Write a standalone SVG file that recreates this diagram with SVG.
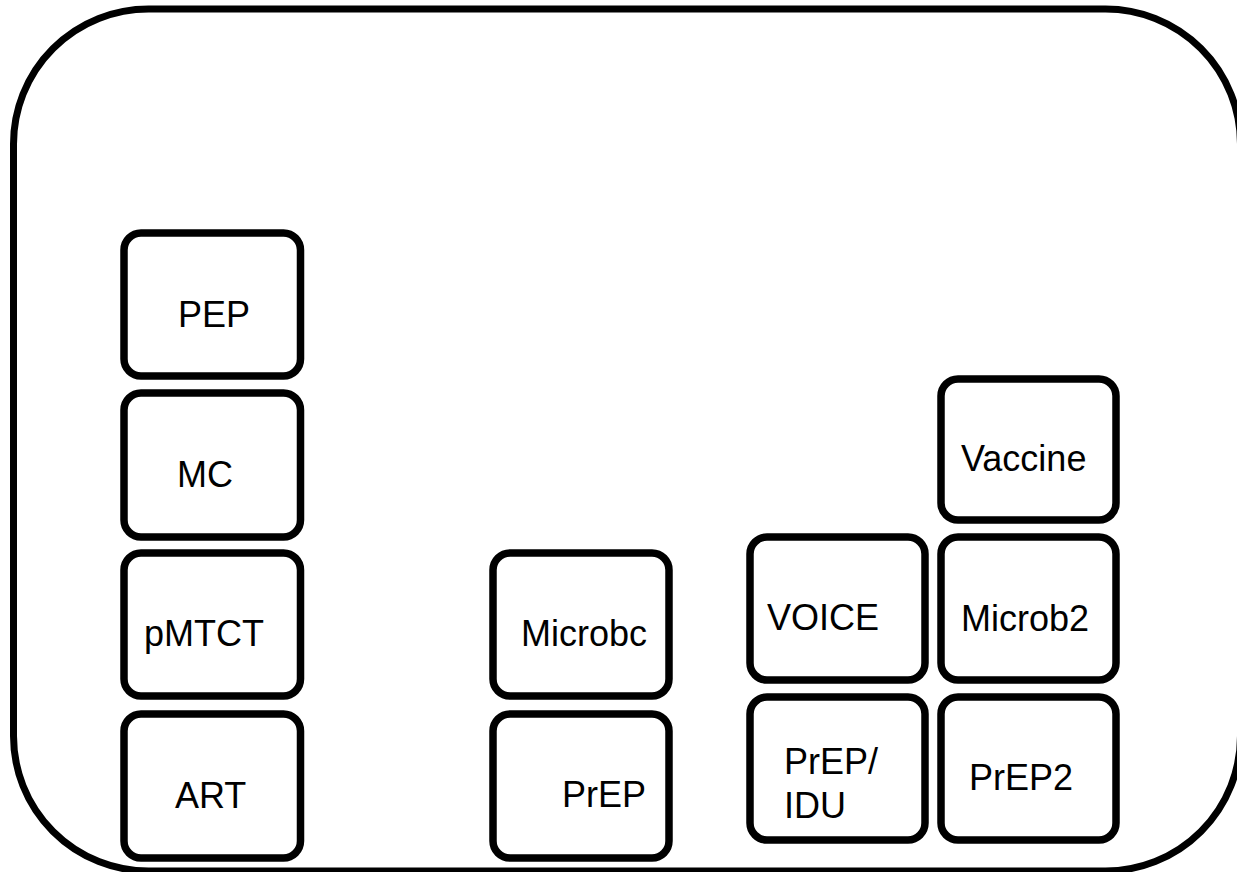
<svg xmlns="http://www.w3.org/2000/svg" width="1237" height="872" viewBox="0 0 1237 872">
<style>
.frame{fill:none;stroke:#000;stroke-width:7}
.box{fill:#fff;stroke:#000;stroke-width:7.5}
.lbl{font-family:"Liberation Sans",Arial,sans-serif;font-size:36px;fill:#000}
</style>
<rect width="1237" height="872" fill="#fff"/>
<rect id="frame" class="frame" x="13.5" y="9" width="1227" height="862" rx="135" ry="135"/>
<g id="connectors"></g>
<g id="PEP"><rect class="box" x="124" y="233" width="176.5" height="143" rx="17"/><text class="lbl" x="178" y="327">PEP</text></g>
<g id="MC"><rect class="box" x="124" y="393" width="176.5" height="144" rx="17"/><text class="lbl" x="177" y="487">MC</text></g>
<g id="pMTCT"><rect class="box" x="124" y="553" width="176.5" height="143" rx="17"/><text class="lbl" x="144" y="646">pMTCT</text></g>
<g id="ART"><rect class="box" x="124" y="714" width="176.5" height="144" rx="17"/><text class="lbl" x="175" y="808">ART</text></g>
<g id="Microbc"><rect class="box" x="493" y="553" width="176" height="143" rx="17"/><text class="lbl" x="521" y="646">Microbc</text></g>
<g id="PrEP"><rect class="box" x="493" y="714" width="176" height="144" rx="17"/><text class="lbl" x="562" y="807">PrEP</text></g>
<g id="VOICE"><rect class="box" x="750" y="537" width="175" height="143" rx="17"/><text class="lbl" x="767" y="630">VOICE</text></g>
<g id="PrEP_IDU"><rect class="box" x="750" y="697" width="175" height="143" rx="17"/><text class="lbl" x="784" y="774">PrEP/</text><text class="lbl" x="784" y="818">IDU</text></g>
<g id="Vaccine"><rect class="box" x="941" y="379" width="175" height="141" rx="17"/><text class="lbl" x="961" y="471">Vaccine</text></g>
<g id="Microb2"><rect class="box" x="941" y="537" width="175" height="143" rx="17"/><text class="lbl" x="961" y="631">Microb2</text></g>
<g id="PrEP2"><rect class="box" x="941" y="697" width="175" height="143" rx="17"/><text class="lbl" x="969" y="790">PrEP2</text></g>
</svg>
